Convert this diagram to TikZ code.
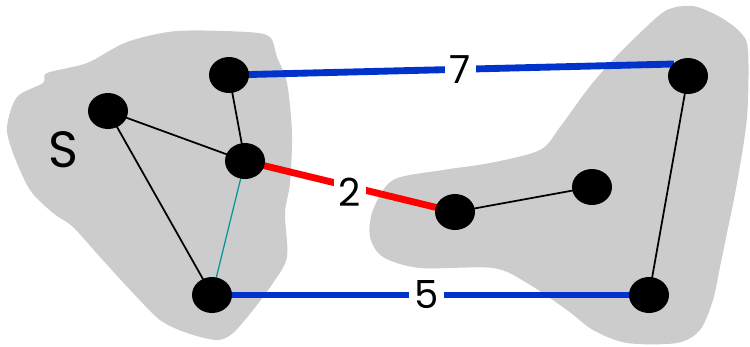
\documentclass[tikz,border=0pt]{standalone}
\usepackage{fontspec}
\setmainfont{Poppins}
\usetikzlibrary{shapes.geometric, calc}
\definecolor{BlobColor}{RGB}{204,204,204}
\definecolor{CutColor}{RGB}{0,51,204}
\definecolor{LightColor}{RGB}{255,0,0}
\definecolor{TreeColor}{RGB}{0,150,150}
\tikzset{
  vertex/.style={ellipse, fill=black, inner sep=0pt, minimum width=0.8cm, minimum height=0.72cm},
  blob/.style={fill=BlobColor, draw=none},
  plain edge/.style={draw=black, line width=1pt},
  tree edge/.style={draw=TreeColor, line width=0.7pt},
  cut edge/.style={draw=CutColor, line width=3.9pt},
  light edge/.style={draw=LightColor, line width=3.9pt},
  weight/.style={fill=white, inner xsep=3pt, inner ysep=1pt, font=\fontsize{22}{24}\selectfont}
}
\begin{document}
\begin{tikzpicture}[x=0.02cm, y=-0.02cm]
  \useasboundingbox (0,0) rectangle (750,346);
  % Blobs
  \fill[blob] plot[smooth cycle, tension=0.5] coordinates {
    (47,73) (87,63) (127,42) (177,31) (247,32) (270,37) (277,57) (287,83)
    (292,133) (290,183) (285,213) (287,257) (273,283) (253,310) (233,333)
    (217,340) (187,333) (160,320) (133,293) (100,257) (73,227) (53,213)
    (30,190) (13,153) (7,127) (17,97) (43,83)};
  \fill[blob] plot[smooth cycle, tension=0.5] coordinates {
    (667,10) (693,6) (720,17) (740,32) (748,50) (747,117) (737,183) (727,233)
    (720,267) (713,300) (700,330) (677,343) (627,343) (593,330) (567,310)
    (527,283) (493,268) (420,268) (383,257) (370,237) (373,210) (393,180)
    (443,170) (490,163) (540,150) (560,127) (587,90) (610,63) (643,30)};
  \node (S) at (63,150) {\fontsize{29}{31}\selectfont S};

  % Edges
  \coordinate (a) at (229,75);
  \coordinate (b) at (108,111);
  \coordinate (c) at (245,161);
  \coordinate (d) at (212,295);
  \coordinate (e) at (455,212);
  \coordinate (f) at (592,187);
  \coordinate (g) at (688,76);
  \coordinate (h) at (649,295);
  \draw[plain edge] (a) -- (c);
  \draw[plain edge] (b) -- (c);
  \draw[plain edge] (b) -- (d);
  \draw[tree edge] (c) -- (d);
  \draw[plain edge] (e) -- (f);
  \draw[plain edge] (g) -- (h);
  \draw[cut edge] (a) -- ($(g)+(-14,-12)$) node[weight, pos=0.52] (w7) {7};
  \draw[light edge] (c) -- (e) node[weight, pos=0.5, yshift=-3pt] (w2) {2};
  \draw[cut edge] (d) -- (h) node[weight, pos=0.49] (w5) {5};

  % Vertices
  \node[vertex] (A) at (a) {};
  \node[vertex] (B) at (b) {};
  \node[vertex] (C) at (c) {};
  \node[vertex] (D) at (d) {};
  \node[vertex] (E) at (e) {};
  \node[vertex] (F) at (f) {};
  \node[vertex] (G) at (g) {};
  \node[vertex] (H) at (h) {};
\end{tikzpicture}
\end{document}
